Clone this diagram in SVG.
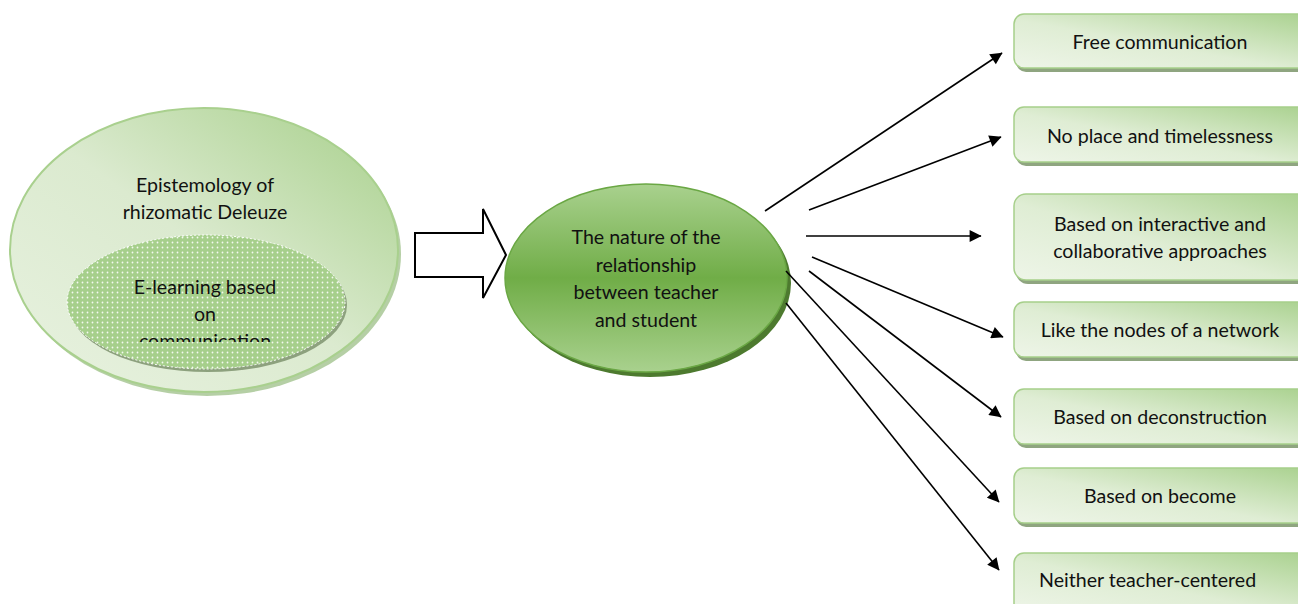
<svg xmlns="http://www.w3.org/2000/svg" width="1298" height="604" viewBox="0 0 1298 604">
  <style>
    text { font-family: Lato, "Open Sans", "Liberation Sans", sans-serif; font-size: 19.6px; fill: #111; text-anchor: middle; }
    .conn line { stroke: #000; stroke-width: 1.6; marker-end: url(#head); }
    .box { fill: url(#boxFill); stroke: #a6cf8a; stroke-width: 1.5; }
    .boxShadow { fill: #8fa580; }
  </style>
  <defs>
    <marker id="head" viewBox="0 0 10 10" refX="9.5" refY="5" markerWidth="15" markerHeight="12" markerUnits="userSpaceOnUse" orient="auto">
      <path d="M0,0 L10,5 L0,10 z" fill="#000"/>
    </marker>
    <linearGradient id="boxFill" x1="0" y1="1" x2="1" y2="0">
      <stop offset="0" stop-color="#eef5e8"/>
      <stop offset="0.45" stop-color="#dfedd4"/>
      <stop offset="1" stop-color="#a9d18e"/>
    </linearGradient>
    <linearGradient id="outerFill" x1="0" y1="1" x2="1" y2="0">
      <stop offset="0" stop-color="#e8f2e0"/>
      <stop offset="0.5" stop-color="#dbeacf"/>
      <stop offset="1" stop-color="#a6cf89"/>
    </linearGradient>
    <linearGradient id="centerFill" x1="0" y1="0" x2="0" y2="1">
      <stop offset="0" stop-color="#a9d18e"/>
      <stop offset="0.5" stop-color="#70ad47"/>
      <stop offset="1" stop-color="#a9d18e"/>
    </linearGradient>
    <pattern id="dots" width="5" height="5" patternUnits="userSpaceOnUse">
      <rect width="5" height="5" fill="#a6cf8b"/>
      <circle cx="2.5" cy="2.5" r="0.9" fill="#f4f9f0"/>
    </pattern>
    <clipPath id="innerClip">
      <rect x="60" y="230" width="300" height="112"/>
    </clipPath>
  </defs>

  <!-- source: rhizomatic epistemology -->
  <g id="epistemology">
    <ellipse cx="207" cy="254" rx="194" ry="142" fill="#a3c38e" opacity="0.8"/>
    <ellipse cx="204" cy="250" rx="194" ry="142" fill="url(#outerFill)" stroke="#a9d08e" stroke-width="2"/>
    <text x="205" y="192">Epistemology of</text>
    <text x="205" y="219">rhizomatic Deleuze</text>
  </g>

  <g id="elearning">
    <ellipse cx="208" cy="305" rx="139" ry="67" fill="#8da17e"/>
    <ellipse cx="206" cy="302" rx="139" ry="67" fill="url(#dots)" stroke="#ffffff" stroke-width="1" stroke-dasharray="2 2"/>
    <g clip-path="url(#innerClip)">
      <text x="205" y="294">E-learning based</text>
      <text x="205" y="321">on</text>
      <text x="205" y="348">communication</text>
    </g>
  </g>

  <!-- block arrow -->
  <g id="blockArrow">
    <path d="M415,233 L483,233 L483,209 L506,255 L483,298 L483,277 L415,277 Z" fill="#ffffff" stroke="#000" stroke-width="2" stroke-linejoin="miter"/>
  </g>

  <!-- central node -->
  <g id="relationship">
    <ellipse cx="650" cy="283" rx="141" ry="94" fill="#4d7a2f"/>
    <ellipse cx="646" cy="278" rx="141" ry="94" fill="url(#centerFill)" stroke="#6aa744" stroke-width="1.5"/>
    <text x="646" y="244">The nature of the</text>
    <text x="646" y="272">relationship</text>
    <text x="646" y="299">between teacher</text>
    <text x="646" y="327">and student</text>
  </g>

  <!-- connectors -->
  <g id="connectors" class="conn">
    <line x1="765" y1="211" x2="1002" y2="53"/>
    <line x1="809" y1="210" x2="1001" y2="137"/>
    <line x1="806" y1="236" x2="981" y2="236"/>
    <line x1="812" y1="257" x2="1003" y2="337"/>
    <line x1="809" y1="271" x2="1001" y2="417"/>
    <line x1="786" y1="271" x2="999" y2="502"/>
    <line x1="786" y1="303" x2="999" y2="570"/>
  </g>

  <!-- outcome boxes -->
  <g id="freeCommunication">
    <rect class="boxShadow" x="1016" y="18" width="300" height="54" rx="10"/>
    <rect class="box" x="1014" y="14" width="300" height="54" rx="10"/>
    <text x="1160" y="49">Free communication</text>
  </g>
  <g id="noPlace">
    <rect class="boxShadow" x="1016" y="111" width="300" height="55" rx="10"/>
    <rect class="box" x="1014" y="107" width="300" height="55" rx="10"/>
    <text x="1160" y="143">No place and timelessness</text>
  </g>
  <g id="interactive">
    <rect class="boxShadow" x="1016" y="198" width="300" height="86" rx="12"/>
    <rect class="box" x="1014" y="194" width="300" height="86" rx="12"/>
    <text x="1160" y="231">Based on interactive and</text>
    <text x="1160" y="258">collaborative approaches</text>
  </g>
  <g id="networkNodes">
    <rect class="boxShadow" x="1016" y="306" width="300" height="55" rx="10"/>
    <rect class="box" x="1014" y="302" width="300" height="55" rx="10"/>
    <text x="1160" y="337">Like the nodes of a network</text>
  </g>
  <g id="deconstruction">
    <rect class="boxShadow" x="1016" y="393" width="300" height="55" rx="10"/>
    <rect class="box" x="1014" y="389" width="300" height="55" rx="10"/>
    <text x="1160" y="424">Based on deconstruction</text>
  </g>
  <g id="become">
    <rect class="boxShadow" x="1016" y="472" width="300" height="55" rx="10"/>
    <rect class="box" x="1014" y="468" width="300" height="55" rx="10"/>
    <text x="1160" y="503">Based on become</text>
  </g>
  <g id="neitherCentered">
    <rect class="boxShadow" x="1016" y="557" width="300" height="60" rx="10"/>
    <rect class="box" x="1014" y="553" width="300" height="60" rx="10"/>
    <text x="1039" y="587" style="text-anchor:start">Neither teacher-centered</text>
  </g>
</svg>
